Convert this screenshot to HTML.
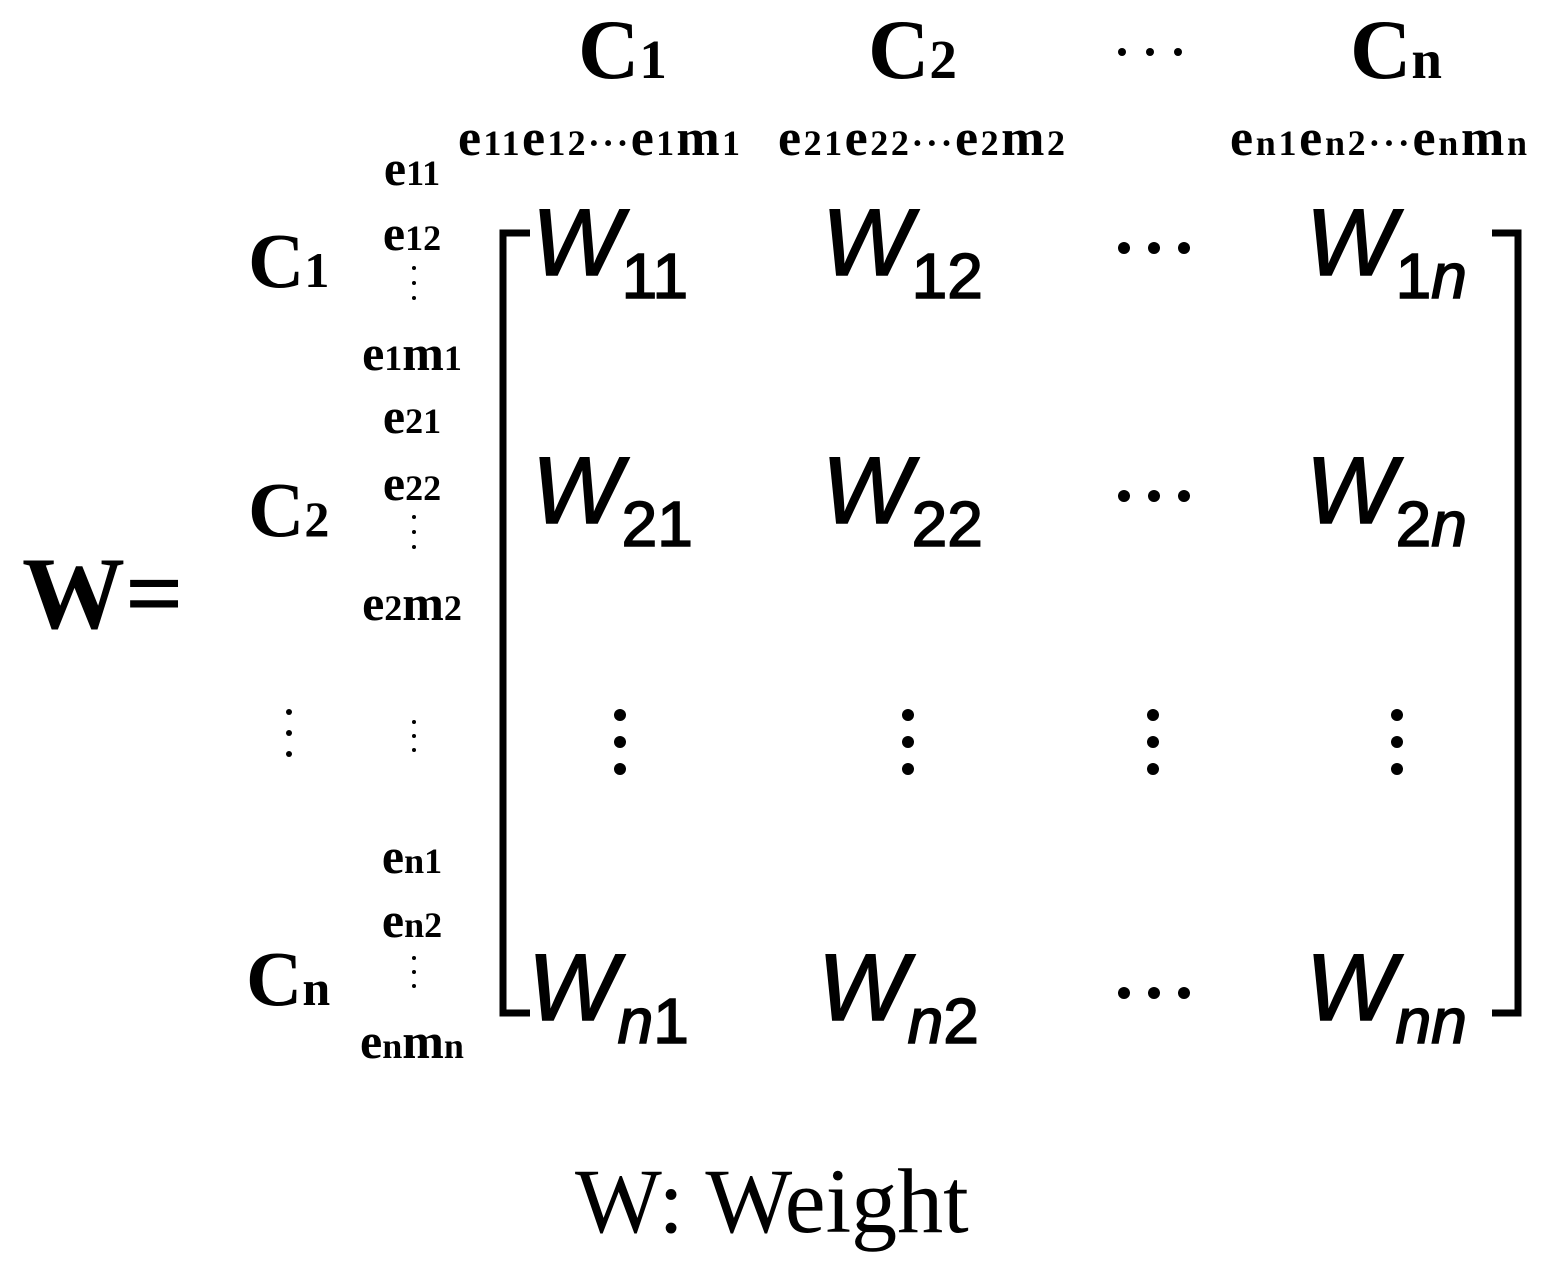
<!DOCTYPE html>
<html><head><meta charset="utf-8"><style>
html,body{margin:0;padding:0;background:#fff;}
svg{display:block}
.s{font-family:"Liberation Serif",serif;font-weight:bold;fill:#000}
.w{font-family:"Liberation Sans",sans-serif;font-style:italic;fill:#000;stroke:#000;stroke-width:1.6}
.d{font-style:normal}
</style></head><body>
<svg width="1545" height="1270" viewBox="0 0 1545 1270" xmlns="http://www.w3.org/2000/svg">
<text class="s" x="22" y="628" font-size="103">W=</text>
<text class="s" x="578" y="78" font-size="85">C<tspan font-size="55">1</tspan></text>
<text class="s" x="868" y="78" font-size="85">C<tspan font-size="55">2</tspan></text>
<text class="s" x="1350" y="78" font-size="85">C<tspan font-size="55">n</tspan></text>
<g fill="#000"><circle cx="1122" cy="52" r="4"/><circle cx="1150" cy="52" r="4"/><circle cx="1178" cy="52" r="4"/></g>
<text class="s" x="458" y="155" font-size="52" textLength="282" lengthAdjust="spacing">e<tspan font-size="36">11</tspan>e<tspan font-size="36">12</tspan><tspan font-size="36">···</tspan>e<tspan font-size="36">1</tspan>m<tspan font-size="36">1</tspan></text>
<text class="s" x="778" y="155" font-size="52" textLength="287" lengthAdjust="spacing">e<tspan font-size="36">21</tspan>e<tspan font-size="36">22</tspan><tspan font-size="36">···</tspan>e<tspan font-size="36">2</tspan>m<tspan font-size="36">2</tspan></text>
<text class="s" x="1230" y="155" font-size="52" textLength="297" lengthAdjust="spacing">e<tspan font-size="36">n1</tspan>e<tspan font-size="36">n2</tspan><tspan font-size="36">···</tspan>e<tspan font-size="36">n</tspan>m<tspan font-size="36">n</tspan></text>
<text class="s" x="248" y="287" font-size="78">C<tspan font-size="50">1</tspan></text>
<text class="s" x="248" y="536" font-size="78">C<tspan font-size="50">2</tspan></text>
<text class="s" x="246" y="1005" font-size="78">C<tspan font-size="50">n</tspan></text>
<g class="s" font-size="50" text-anchor="middle">
<text x="412" y="185">e<tspan font-size="36">11</tspan></text>
<text x="412" y="250">e<tspan font-size="36">12</tspan></text>
<text x="412" y="370">e<tspan font-size="36">1</tspan>m<tspan font-size="36">1</tspan></text>
<text x="412" y="433">e<tspan font-size="36">21</tspan></text>
<text x="412" y="500">e<tspan font-size="36">22</tspan></text>
<text x="412" y="620">e<tspan font-size="36">2</tspan>m<tspan font-size="36">2</tspan></text>
<text x="412" y="873">e<tspan font-size="36">n1</tspan></text>
<text x="412" y="937">e<tspan font-size="36">n2</tspan></text>
<text x="412" y="1058">e<tspan font-size="36">n</tspan>m<tspan font-size="36">n</tspan></text>
</g>
<g fill="#000">
<circle cx="414" cy="268" r="2"/><circle cx="414" cy="283" r="2"/><circle cx="414" cy="298" r="2"/>
<circle cx="414" cy="517" r="2"/><circle cx="414" cy="532" r="2"/><circle cx="414" cy="547" r="2"/>
<circle cx="414" cy="722" r="2"/><circle cx="414" cy="736" r="2"/><circle cx="414" cy="750" r="2"/>
<circle cx="414" cy="958" r="2"/><circle cx="414" cy="972" r="2"/><circle cx="414" cy="986" r="2"/>
<circle cx="289" cy="712" r="3"/><circle cx="289" cy="733" r="3"/><circle cx="289" cy="754" r="3"/>
</g>
<path d="M530 233 H503 V1013 H530" fill="none" stroke="#000" stroke-width="7"/>
<path d="M1492 233 H1518 V1013 H1492" fill="none" stroke="#000" stroke-width="7"/>
<g font-size="95">
<text class="w" x="532" y="275">W<tspan class="d" font-size="64" dy="23">11</tspan></text>
<text class="w" x="822" y="275">W<tspan class="d" font-size="64" dy="23">12</tspan></text>
<text class="w" x="1306" y="275">W<tspan class="d" font-size="64" dy="23">1</tspan><tspan font-size="64">n</tspan></text>
<text class="w" x="532" y="523">W<tspan class="d" font-size="64" dy="23">21</tspan></text>
<text class="w" x="822" y="523">W<tspan class="d" font-size="64" dy="23">22</tspan></text>
<text class="w" x="1306" y="523">W<tspan class="d" font-size="64" dy="23">2</tspan><tspan font-size="64">n</tspan></text>
<text class="w" x="528" y="1020">W<tspan font-size="64" dy="23">n</tspan><tspan class="d" font-size="64">1</tspan></text>
<text class="w" x="818" y="1020">W<tspan font-size="64" dy="23">n</tspan><tspan class="d" font-size="64">2</tspan></text>
<text class="w" x="1306" y="1020">W<tspan font-size="64" dy="23">nn</tspan></text>
</g>
<g fill="#000">
<circle cx="1124" cy="248" r="6"/><circle cx="1154" cy="248" r="6"/><circle cx="1184" cy="248" r="6"/>
<circle cx="1124" cy="496" r="6"/><circle cx="1154" cy="496" r="6"/><circle cx="1184" cy="496" r="6"/>
<circle cx="1124" cy="993" r="6"/><circle cx="1154" cy="993" r="6"/><circle cx="1184" cy="993" r="6"/>
<circle cx="620" cy="715" r="6"/><circle cx="620" cy="742" r="6"/><circle cx="620" cy="769" r="6"/>
<circle cx="908" cy="715" r="6"/><circle cx="908" cy="742" r="6"/><circle cx="908" cy="769" r="6"/>
<circle cx="1153" cy="715" r="6"/><circle cx="1153" cy="742" r="6"/><circle cx="1153" cy="769" r="6"/>
<circle cx="1397" cy="715" r="6"/><circle cx="1397" cy="742" r="6"/><circle cx="1397" cy="769" r="6"/>
</g>
<text x="575" y="1232" font-family="Liberation Serif, serif" font-size="92" fill="#000">W: Weight</text>
</svg>
</body></html>
